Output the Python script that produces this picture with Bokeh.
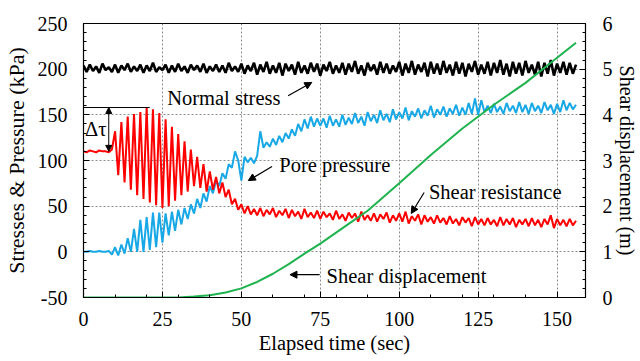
import numpy as np
from bokeh.plotting import figure
from bokeh.models import Range1d, LinearAxis, FixedTicker, Label, Arrow, NormalHead
from bokeh.embed import file_html
from bokeh.resources import INLINE

# ---- data, 1-s sampling ----
normal_stress = [
    204,197,205,198,203,196,206,199,202,197,
    205,196,204,199,206,197,203,198,205,196,
    204,198,207,197,202,199,205,196,204,197,
    206,198,203,196,205,199,204,197,206,196,
    203,198,205,197,204,196,207,198,203,197,
    206,195,204,198,207,194,205,197,208,195,
    204,196,207,193,206,198,205,194,208,196,
    204,195,207,197,206,193,205,198,208,195,
    204,196,207,194,206,197,209,195,204,193,
    207,198,205,194,208,196,206,195,204,197,
    208,193,206,196,209,194,205,197,207,192,
    208,195,206,194,209,196,205,193,208,195,
    207,192,206,197,209,194,205,195,208,193,
    207,196,210,194,206,192,208,195,207,193,
    209,196,205,194,208,192,207,195,210,193,
    206,196,208,194,207,195,205]

shear_resistance = [
    110,109,111,110,109,111,110,110,109,112,
    132,84,142,76,148,68,151,62,153,58,
    158,54,156,51,152,48,145,50,137,56,
    129,62,121,66,112,72,104,70,96,66,
    88,68,82,64,76,60,68,52,58,46,
    52,42,50,41,47,40,48,39,46,41,
    48,38,45,40,47,37,46,39,44,36,
    47,38,43,37,45,36,44,38,42,35,
    45,36,41,34,43,37,42,33,44,35,
    40,34,42,33,41,36,43,32,40,34,
    42,33,44,31,39,34,41,30,40,33,
    38,31,40,32,37,30,39,31,36,29,
    38,32,37,28,38,30,36,29,37,30,
    35,28,38,29,36,30,37,27,35,30,
    36,28,37,29,35,27,36,30,40,26,
    36,29,35,28,36,29,34]

pore_pressure = [
    0,0,1,0,0,1,0,0,1,-3,
    5,-4,8,-2,15,0,25,0,35,0,
    38,2,43,5,43,10,42,18,44,23,
    46,30,48,36,52,42,58,48,64,55,
    72,64,78,72,86,80,96,92,110,100,
    78,104,98,103,97,105,132,114,120,115,
    124,117,127,120,130,124,134,127,140,132,
    145,135,148,137,146,138,146,136,149,138,
    145,137,150,139,147,140,152,141,148,138,
    153,143,150,141,155,144,151,142,156,145,
    153,146,158,144,154,148,157,146,155,149,
    160,147,156,150,159,148,157,151,161,149,
    158,150,163,151,168,150,166,153,160,152,
    162,153,159,151,163,154,160,152,164,153,
    161,151,163,154,160,152,164,155,161,151,
    162,153,166,155,163,156,161]

disp_time = [0, 30, 35, 40, 45, 50, 55, 60, 65, 70, 75, 80, 85, 90, 95,
             100, 110, 120, 130, 140, 150, 156]
shear_disp = [0, 0, 0.02, 0.05, 0.11, 0.2, 0.34, 0.52, 0.73, 0.96, 1.18, 1.42,
              1.66, 1.9, 2.2, 2.5, 3.12, 3.7, 4.22, 4.7, 5.25, 5.58]

x_ticks = [0, 25, 50, 75, 100, 125, 150]
y_ticks = [-50, 0, 50, 100, 150, 200, 250]
disp_ticks = [0, 1, 2, 3, 4, 5, 6]

t_ns = np.arange(len(normal_stress))
t_sr = np.arange(len(shear_resistance))
t_pp = np.arange(len(pore_pressure))

FONT = "'Liberation Serif'"
FS = "20px"

p = figure(width=640, height=361, x_range=Range1d(0, 159), y_range=Range1d(-50, 250),
           output_backend="svg", toolbar_location=None,
           min_border_left=82, min_border_right=52, min_border_top=23, min_border_bottom=64,
           background_fill_color="white", border_fill_color="white")
p.outline_line_color = "black"
p.outline_line_width = 1.2

p.extra_y_ranges = {"disp": Range1d(0, 6)}
right = LinearAxis(y_range_name="disp", axis_label="Shear displacement (m)")
p.add_layout(right, "right")

p.xaxis.ticker = FixedTicker(ticks=x_ticks, minor_ticks=[10, 20, 30, 40, 50, 60, 70, 80, 90, 100, 110, 120, 130, 140, 150])
p.yaxis.ticker = FixedTicker(ticks=y_ticks, minor_ticks=[v for v in range(-40, 250, 10)])
right.ticker = FixedTicker(ticks=disp_ticks, minor_ticks=[i / 5 for i in range(1, 30)])
p.yaxis[0].major_label_overrides = {-50: "-50"}

p.xaxis.axis_label = "Elapsed time (sec)"
p.yaxis[0].axis_label = "Stresses & Pressure (kPa)"

for ax in [p.xaxis[0], p.yaxis[0], right]:
    ax.major_tick_in = 6
    ax.major_tick_out = 0
    ax.minor_tick_in = 3
    ax.minor_tick_out = 0
    ax.major_tick_line_color = "black"
    ax.minor_tick_line_color = "black"
    ax.axis_line_color = "black"
    ax.major_label_text_font = FONT
    ax.major_label_text_font_size = FS
    ax.major_label_text_color = "black"
    ax.axis_label_text_font = FONT
    ax.axis_label_text_font_size = FS
    ax.axis_label_text_font_style = "normal"
    ax.axis_label_text_color = "black"

p.yaxis[0].axis_label_text_font_size = "22px"
p.xaxis.axis_label_text_font_size = "20.5px"

p.xaxis.major_label_standoff = 14
p.xaxis.axis_label_standoff = 3
p.yaxis[0].major_label_standoff = 16
p.yaxis[0].axis_label_standoff = 6
right.major_label_standoff = 17
right.axis_label_standoff = 0

p.xgrid.ticker = FixedTicker(ticks=[25, 50, 75, 100, 125, 150])
p.ygrid.ticker = FixedTicker(ticks=[0, 50, 100, 150, 200])
for g in [p.xgrid[0], p.ygrid[0]]:
    g.grid_line_color = "#8c8c8c"
    g.grid_line_dash = "2 2"
    g.grid_line_width = 1

p.line(t_ns, normal_stress, line_color="black", line_width=2.6)
p.line(t_pp, pore_pressure, line_color="#18a8e6", line_width=2)
p.line(t_sr, shear_resistance, line_color="#ff0000", line_width=2)
p.line(disp_time, shear_disp, line_color="#1fb34f", line_width=2, y_range_name="disp")

def label(x, y, text):
    p.add_layout(Label(x=x, y=y, text=text, text_font=FONT, text_font_size="20.5px",
                       text_baseline="middle", text_color="black"))

def arrow(x0, y0, x1, y1):
    p.add_layout(Arrow(end=NormalHead(size=7, fill_color="black", line_color="black"),
                       x_start=x0, y_start=y0, x_end=x1, y_end=y1,
                       line_color="black", line_width=1.2))

label(26.5, 168, "Normal stress")
arrow(64.8, 171, 72.3, 185.5)
label(62, 95, "Pore pressure")
arrow(59.7, 93.5, 52.2, 78)
label(109.4, 65, "Shear resistance")
arrow(107.9, 65, 103.8, 42)
label(77, -26, "Shear displacement")
arrow(74.8, -25, 65.4, -25)

tau_peak = max(shear_resistance)
tau_0 = shear_resistance[0]
p.add_layout(Arrow(end=None, x_start=0, y_start=tau_peak, x_end=21, y_end=tau_peak,
                   line_color="black", line_width=1))
p.add_layout(Arrow(start=NormalHead(size=6, fill_color="black", line_color="black"),
                   end=NormalHead(size=6, fill_color="black", line_color="black"),
                   x_start=8, y_start=tau_0, x_end=8, y_end=tau_peak,
                   line_color="black", line_width=1))
label(0.5, 135, "Δτ")

open("out.html", "w").write(file_html(p, INLINE))
